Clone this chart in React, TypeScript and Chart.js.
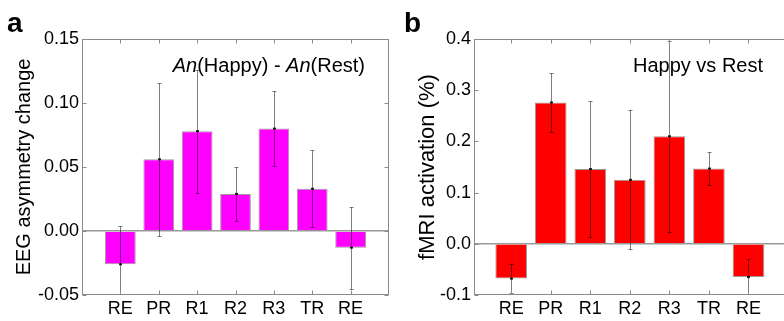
import React, { useEffect, useRef } from 'react';
import { Chart, registerables } from 'chart.js';

Chart.register(...registerables);

const categories = ['RE', 'PR', 'R1', 'R2', 'R3', 'TR', 'RE'];

const eegMean = [-0.026, 0.056, 0.078, 0.029, 0.08, 0.033, -0.013];
const eegErr = [0.03, 0.06, 0.048, 0.021, 0.029, 0.03, 0.032];
const eegTicks = [-0.05, 0, 0.05, 0.1, 0.15];

const fmriMean = [-0.068, 0.276, 0.146, 0.125, 0.21, 0.147, -0.065];
const fmriErr = [0.028, 0.058, 0.133, 0.136, 0.186, 0.032, 0.036];
const fmriTicks = [-0.1, 0, 0.1, 0.2, 0.3, 0.4];

const FONT = "Arial, 'Liberation Sans', Helvetica, sans-serif";

type Cfg = {
  mean: number[];
  err: number[];
  ticks: number[];
  decimals: number;
  color: string;
  yTitle: string;
  titleSize: number;
  titlePad: number;
  letter: string;
  letterX: number;
  note: Array<[string, boolean]>;
  noteRight: number;
  padRight: number;
  xMin: number;
  xMax: number;
};

function buildChart(canvas: HTMLCanvasElement, c: Cfg) {
  const decor = {
    id: 'decor',
    afterDatasetsDraw(chart: any) {
      const { ctx, chartArea: a, scales } = chart;
      const x = scales.x;
      const y = scales.y;
      ctx.save();
      ctx.beginPath();
      ctx.rect(a.left, a.top, a.right - a.left, a.bottom - a.top);
      ctx.clip();
      ctx.strokeStyle = 'rgba(0,0,0,0.5)';
      ctx.lineWidth = 1;
      c.mean.forEach((m, i) => {
        const px = Math.round(x.getPixelForValue(i + 1)) + 0.5;
        const yt = Math.round(y.getPixelForValue(m + c.err[i])) + 0.5;
        const yb = Math.round(y.getPixelForValue(m - c.err[i])) + 0.5;
        ctx.beginPath();
        ctx.moveTo(px, yt);
        ctx.lineTo(px, yb);
        ctx.moveTo(px - 2, yt);
        ctx.lineTo(px + 2, yt);
        ctx.moveTo(px - 2, yb);
        ctx.lineTo(px + 2, yb);
        ctx.stroke();
        ctx.fillStyle = 'rgba(0,0,0,0.85)';
        ctx.fillRect(px - 1.5, y.getPixelForValue(m) - 1, 3, 2);
      });
      ctx.restore();
    },
    afterDraw(chart: any) {
      const { ctx, chartArea: a, scales } = chart;
      const x = scales.x;
      const y = scales.y;
      ctx.save();
      ctx.strokeStyle = '#8a8a8a';
      ctx.lineWidth = 1;
      const L = Math.round(a.left) + 0.5;
      const R = Math.round(a.right) - 0.5;
      const T = Math.round(a.top) + 0.5;
      const B = Math.round(a.bottom) - 0.5;
      ctx.strokeRect(L, T, R - L, B - T);
      ctx.beginPath();
      y.ticks.forEach((t: any) => {
        const py = Math.round(y.getPixelForValue(t.value)) + 0.5;
        ctx.moveTo(L, py);
        ctx.lineTo(L + 4, py);
        ctx.moveTo(R, py);
        ctx.lineTo(R - 4, py);
      });
      x.ticks.forEach((t: any) => {
        const px = Math.round(x.getPixelForValue(t.value)) + 0.5;
        ctx.moveTo(px, T);
        ctx.lineTo(px, T + 4);
        ctx.moveTo(px, B);
        ctx.lineTo(px, B - 4);
      });
      ctx.stroke();

      // annotation text
      ctx.fillStyle = '#000';
      ctx.textBaseline = 'middle';
      ctx.textAlign = 'left';
      const widths = c.note.map(([s, it]) => {
        ctx.font = `${it ? 'italic ' : ''}20px ${FONT}`;
        return ctx.measureText(s).width;
      });
      const total = widths.reduce((p, v) => p + v, 0);
      let cx = a.right - c.noteRight - total;
      c.note.forEach(([s, it], i) => {
        ctx.font = `${it ? 'italic ' : ''}20px ${FONT}`;
        ctx.fillText(s, cx, 66);
        cx += widths[i];
      });

      // panel letter
      ctx.font = `bold 28px ${FONT}`;
      ctx.textBaseline = 'alphabetic';
      ctx.fillText(c.letter, c.letterX, 32);
      ctx.restore();
    },
  };

  return new Chart(canvas, {
    type: 'bar',
    data: {
      datasets: [
        {
          data: c.mean.map((v, i) => ({ x: i + 1, y: v })),
          backgroundColor: c.color,
          borderColor: '#9a9a9a',
          borderWidth: 1,
          barPercentage: 0.8,
          categoryPercentage: 1,
        },
      ],
    },
    options: {
      animation: false,
      responsive: false,
      devicePixelRatio: 1,
      layout: { padding: { top: 39, left: 0, right: c.padRight, bottom: 0 } },
      plugins: { legend: { display: false }, tooltip: { enabled: false } },
      scales: {
        x: {
          type: 'linear',
          offset: false,
          min: c.xMin,
          max: c.xMax,
          afterBuildTicks: (s: any) => {
            s.ticks = categories.map((_, i) => ({ value: i + 1 }));
          },
          afterFit: (s: any) => {
            s.height = 26;
          },
          ticks: {
            autoSkip: false,
            maxRotation: 0,
            padding: 3,
            color: '#000',
            font: { family: FONT, size: 18 },
            callback: (v: any) => categories[Math.round(v) - 1] ?? '',
          },
          grid: { display: false, drawTicks: false },
          border: { display: false },
        },
        y: {
          type: 'linear',
          min: c.ticks[0],
          max: c.ticks[c.ticks.length - 1],
          afterBuildTicks: (s: any) => {
            s.ticks = c.ticks.map((v) => ({ value: v }));
          },
          afterFit: (s: any) => {
            s.width = 82;
          },
          ticks: {
            autoSkip: false,
            padding: 3,
            color: '#000',
            font: { family: FONT, size: 18 },
            callback: (v: any) => Number(v).toFixed(c.decimals),
          },
          grid: {
            drawTicks: false,
            lineWidth: 1.5,
            color: (ctx: any) => (ctx.tick && Math.abs(ctx.tick.value) < 1e-9 ? '#9a9a9a' : 'rgba(0,0,0,0)'),
          },
          border: { display: false },
          title: {
            display: true,
            text: c.yTitle,
            color: '#000',
            font: { family: FONT, size: c.titleSize },
            padding: { top: c.titlePad, bottom: 0 },
          },
        },
      },
    },
    plugins: [decor],
  } as any);
}

export default function App() {
  const leftRef = useRef<HTMLCanvasElement>(null);
  const rightRef = useRef<HTMLCanvasElement>(null);

  useEffect(() => {
    const a = buildChart(leftRef.current!, {
      mean: eegMean,
      err: eegErr,
      ticks: eegTicks,
      decimals: 2,
      color: '#ff00ff',
      yTitle: 'EEG asymmetry change',
      titleSize: 20,
      titlePad: 12,
      letter: 'a',
      letterX: 7,
      note: [
        ['An', true],
        ['(Happy) - ', false],
        ['An', true],
        ['(Rest)', false],
      ],
      noteRight: 24,
      padRight: 3,
      xMin: 0,
      xMax: 8,
    });
    const b = buildChart(rightRef.current!, {
      mean: fmriMean,
      err: fmriErr,
      ticks: fmriTicks,
      decimals: 1,
      color: '#ff0000',
      yTitle: 'fMRI activation (%)',
      titleSize: 22,
      titlePad: 23,
      letter: 'b',
      letterX: 12,
      note: [['Happy vs Rest', false]],
      noteRight: 27,
      padRight: 2,
      xMin: 0.06,
      xMax: 8.05,
    });
    return () => {
      a.destroy();
      b.destroy();
    };
  }, []);

  return (
    <div
      style={{
        position: 'fixed',
        left: 0,
        top: 0,
        width: 784,
        height: 321,
        overflow: 'hidden',
        background: '#fff',
      }}
    >
      <canvas ref={leftRef} width={392} height={321} style={{ position: 'absolute', left: 0, top: 0 }} />
      <canvas ref={rightRef} width={400} height={321} style={{ position: 'absolute', left: 392, top: 0 }} />
    </div>
  );
}
